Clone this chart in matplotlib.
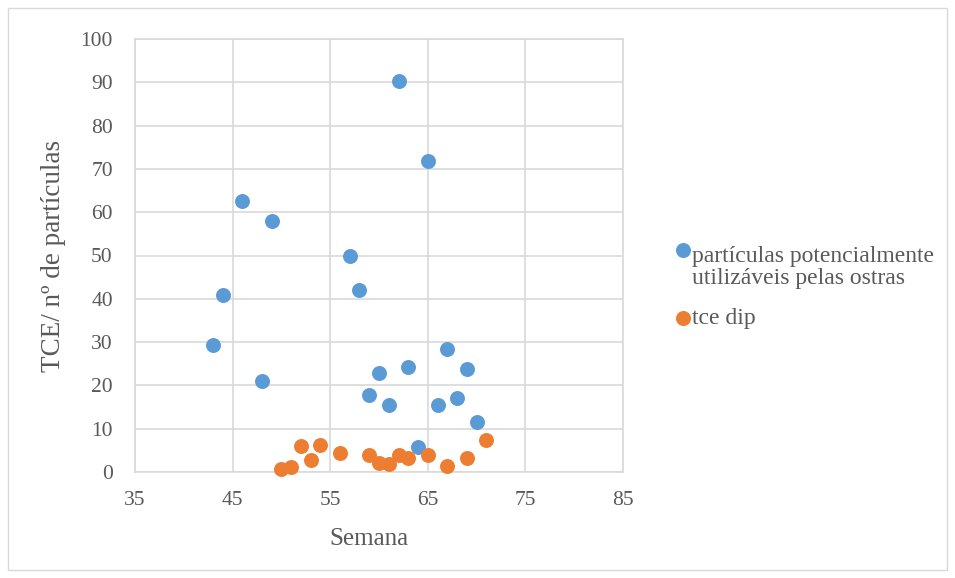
import matplotlib
matplotlib.use("Agg")
import matplotlib.pyplot as plt
from matplotlib.patches import Rectangle
from matplotlib.lines import Line2D

semana_part = [43, 44, 46, 48, 49, 57, 58, 59, 60, 61, 62, 63, 64, 65, 66, 67, 68, 69, 70]
particulas = [29.3, 40.9, 62.7, 21.1, 57.9, 49.8, 42.0, 17.8, 22.9, 15.5, 90.4, 24.2, 5.8, 71.9, 15.5, 28.5, 17.1, 23.7, 11.5]
semana_tce = [50, 51, 52, 53, 54, 56, 59, 60, 61, 62, 63, 65, 67, 69, 71]
tce_dip = [0.7, 1.15, 5.9, 2.7, 6.3, 4.4, 4.0, 2.1, 1.9, 3.85, 3.3, 4.0, 1.5, 3.15, 7.3]
series_names = ["partículas potencialmente\nutilizáveis pelas ostras", "tce dip"]
xticks = [35, 45, 55, 65, 75, 85]
yticks = list(range(0, 101, 10))

plt.rcParams['font.family'] = ['Liberation Serif', 'DejaVu Serif']

W, H = 955, 578
fig = plt.figure(figsize=(W / 100, H / 100), dpi=100)
fig.patches.append(Rectangle((8 / W, 8 / H), (W - 16) / W, (H - 16) / H, transform=fig.transFigure,
                             fill=False, edgecolor='#d9d9d9', linewidth=1))

ax = fig.add_axes([135 / W, 1 - 472 / H, (623 - 135) / W, (472 - 39) / H])
blue = '#5B9BD5'
orange = '#ED7D31'
txt = '#595959'
ax.scatter(semana_part, particulas, s=116, color=blue, zorder=3, linewidths=0)
ax.scatter(semana_tce, tce_dip, s=116, color=orange, zorder=3, linewidths=0, clip_on=False)

ax.set_xlim(35, 85)
ax.set_ylim(0, 100)
ax.set_xticks(xticks)
ax.set_yticks(yticks)
ax.grid(True, color='#d9d9d9', linewidth=1.2)
ax.set_axisbelow(True)
for s in ax.spines.values():
    s.set_color('#d9d9d9')
    s.set_linewidth(1.2)
ax.tick_params(length=0, labelsize=15.5, colors=txt)
ax.tick_params(axis='y', pad=16)
ax.tick_params(axis='x', pad=14)
ax.set_xlabel('Semana', fontsize=18, color=txt)
ax.set_ylabel('TCE/ nº de partículas', fontsize=19.5, color=txt)
ax.xaxis.set_label_coords((369 - 135) / 488, (472 - 528) / 433)
ax.yaxis.set_label_coords((66 - 135) / 488, 0.5)

# legend
def fx(px):
    return px / W

def fy(py):
    return 1 - py / H

colors = [blue, orange]
marker_y = [250, 318]
text_base = [284, 324]
for name, c, my, tb in zip(series_names, colors, marker_y, text_base):
    fig.add_artist(Line2D([fx(682.5)], [fy(my)], marker='o', markersize=10.8, color=c,
                          markeredgewidth=0, linestyle='none', transform=fig.transFigure))
    fig.text(fx(692), fy(tb), name, fontsize=17, color=txt, va='baseline', ha='left', linespacing=1.08)

fig.savefig('out.png', dpi=100)
